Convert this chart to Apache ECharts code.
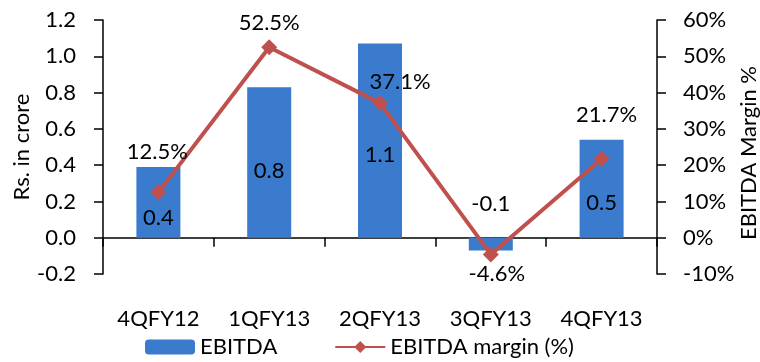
<!DOCTYPE html>
<html>
<head>
<meta charset="utf-8">
<script src="https://cdn.jsdelivr.net/npm/echarts@6/dist/echarts.min.js"></script>
<style>html,body{margin:0;padding:0;background:#fff}#c{width:760px;height:362px}</style>
</head>
<body>
<div id="c"></div>
<script>
const categories = ['4QFY12', '1QFY13', '2QFY13', '3QFY13', '4QFY13'];
const ebitda = [0.39, 0.83, 1.07, -0.07, 0.54];
const ebitdaLabels = ['0.4', '0.8', '1.1', '-0.1', '0.5'];
const margin = [12.5, 52.5, 37.1, -4.6, 21.7];
const leftTicks = { min: -0.2, max: 1.2, interval: 0.2 };
const rightTicks = { min: -10, max: 60, interval: 10 };

// label placement (layout only)
const barLabelOffsets = [[0, 16], [0, 8], [0, 14], [0, -40], [0, 14]];
const lineLabelOffsets = [[-1, -40], [0, -24], [20, -21], [6, 20], [5, -44]];

const FONT = 'Lato';
const FS = 22;
const chart = echarts.init(document.getElementById('c'), null, { renderer: 'canvas' });

const barData = ebitda.map((v, i) => ({
  value: v,
  label: { show: true, position: 'inside', offset: barLabelOffsets[i], formatter: ebitdaLabels[i] }
}));
const lineData = margin.map((v, i) => ({
  value: v,
  label: { show: true, position: 'inside', offset: lineLabelOffsets[i], formatter: v.toFixed(1) + '%' }
}));

chart.setOption({
  animation: false,
  textStyle: { fontFamily: FONT },
  grid: { left: 103, right: 103, top: 20, bottom: 88, containLabel: false, outerBoundsMode: 'none' },
  legend: {
    bottom: -1, left: 140,
    itemWidth: 50, itemHeight: 15, itemGap: 57,
    textStyle: { fontFamily: FONT, fontSize: FS, color: '#000' },
    data: ['EBITDA', 'EBITDA margin (%)']
  },
  xAxis: {
    type: 'category', data: categories,
    axisLine: { onZero: true, lineStyle: { color: '#000', width: 1.5 } },
    axisTick: { show: true, length: 9, lineStyle: { color: '#000', width: 1.5 } },
    axisLabel: { margin: 34, fontFamily: FONT, fontSize: FS, color: '#000' },
    splitLine: { show: false }
  },
  yAxis: [{
    type: 'value', min: leftTicks.min, max: leftTicks.max, interval: leftTicks.interval,
    name: 'Rs. in crore', nameLocation: 'middle', nameGap: 70, nameRotate: 90, nameMoveOverlap: false,
    nameTextStyle: { fontFamily: FONT, fontSize: FS, color: '#000' },
    axisLine: { show: true, onZero: false, lineStyle: { color: '#000', width: 1.5 } },
    axisTick: { show: true, length: 9, lineStyle: { color: '#000', width: 1.5 } },
    axisLabel: { margin: 27, fontFamily: FONT, fontSize: FS, color: '#000', formatter: v => v.toFixed(1) },
    splitLine: { show: false }
  }, {
    type: 'value', position: 'right', min: rightTicks.min, max: rightTicks.max, interval: rightTicks.interval,
    name: 'EBITDA Margin %', nameLocation: 'middle', nameGap: 81, nameRotate: 90, nameMoveOverlap: false,
    nameTextStyle: { fontFamily: FONT, fontSize: FS, color: '#000', padding: [0, 12, 0, 0] },
    axisLine: { show: true, onZero: false, lineStyle: { color: '#000', width: 1.5 } },
    axisTick: { show: true, length: 9, lineStyle: { color: '#000', width: 1.5 } },
    axisLabel: { margin: 26, fontFamily: FONT, fontSize: FS, color: '#000', formatter: v => v + '%' },
    splitLine: { show: false }
  }],
  series: [{
    name: 'EBITDA', type: 'bar', yAxisIndex: 0, barWidth: 44,
    itemStyle: { color: '#3A7BCD' },
    label: { fontFamily: FONT, fontSize: FS, color: '#000' },
    data: barData
  }, {
    name: 'EBITDA margin (%)', type: 'line', yAxisIndex: 1,
    symbol: 'diamond', symbolSize: 16,
    lineStyle: { color: '#C0504D', width: 4 },
    itemStyle: { color: '#C0504D' },
    label: { fontFamily: FONT, fontSize: FS, color: '#000' },
    data: lineData, z: 3
  }]
});
</script>
</body>
</html>
